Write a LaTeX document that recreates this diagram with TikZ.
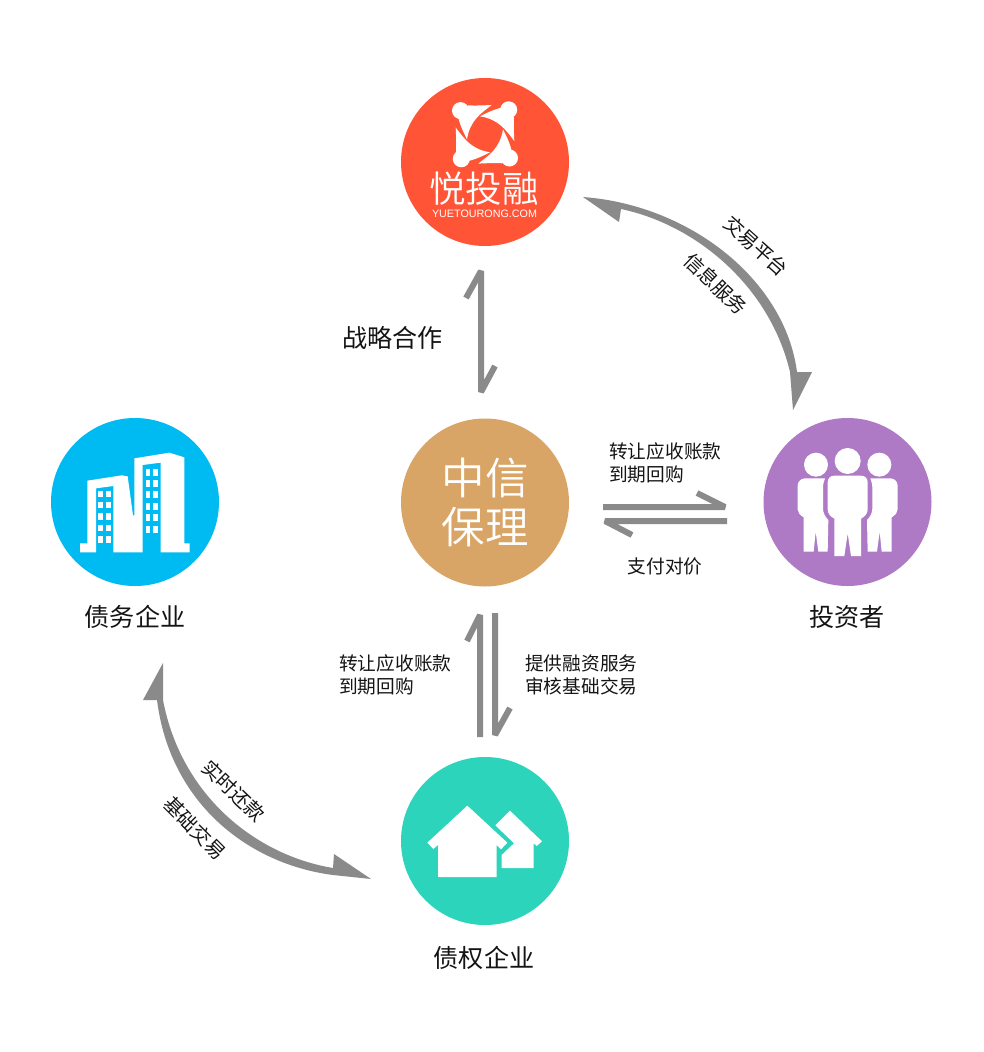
\documentclass[tikz,border=0pt]{standalone}
\usepackage{fontspec}
\setmainfont{Noto Sans CJK SC}
\newfontfamily\lightcjk{Noto Sans CJK SC DemiLight}
\newfontfamily\latinlogo{Liberation Sans}
\definecolor{cTop}{RGB}{255,84,54}
\definecolor{cMid}{RGB}{217,165,102}
\definecolor{cLeft}{RGB}{0,186,242}
\definecolor{cRight}{RGB}{175,122,197}
\definecolor{cBot}{RGB}{43,212,187}
\definecolor{cGray}{RGB}{138,138,138}
\definecolor{cInk}{RGB}{20,20,20}
\newcommand{\fs}[1]{\fontsize{#1pt}{#1pt}\selectfont}
\tikzset{
  x=1pt,y=-1pt,
  disc/.style={circle,minimum size=168pt,inner sep=0pt,text=white},
  biglabel/.style={inner sep=0pt,text=cInk,font=\fs{25.1}},
  smalllabel/.style={inner sep=0pt,text=cInk,font=\fs{18.7},align=left},
  tiltlabel/.style={inner sep=0pt,text=cInk,font=\fs{19.5}},
  halfline/.style={draw=cGray,line width=6pt,line join=bevel},
  swoop/.style={fill=cGray,draw=none}
}
\begin{document}
\begin{tikzpicture}
\useasboundingbox (0,0) rectangle (983,1052);
\fill[white] (0,0) rectangle (983,1052);
% discs
\node[disc,fill=cTop] (yue) at (485,162) {};
\node[disc,fill=cMid,font=\lightcjk\fs{43.5},align=center] (zx) at (485,502.5) {中信\\[5.5pt]保理};
\node[disc,fill=cLeft] (debt) at (135,502) {};
\node[disc,fill=cRight] (inv) at (847.5,502) {};
\node[disc,fill=cBot] (cred) at (485,841) {};
% logo
\foreach \a in {0,90,180,270}{
\begin{scope}[shift={(485,134.3)},rotate=\a]
\fill[white] (6.7,-29.3) .. controls (-4,-21) and (-15,-14) .. (-18,5)
  .. controls (-22,-3) and (-25,-9) .. (-27,-18) -- (-17,-29)
  .. controls (-10,-28.5) and (0,-29) .. (6.7,-29.3) -- cycle;
\fill[white] (-24.5,-23.7) circle (8.5);
\end{scope}}
\node[inner sep=0pt,text=white,font=\lightcjk\fs{36.5}] (logoname) at (484,189) {悦投融};
\node[inner sep=0pt,text=white,font=\latinlogo\fs{10.75}] (logourl) at (484.5,214) {YUETOURONG.COM};
% building
\begin{scope}[shift={(40,410)},scale=1/3]
\fill[white] (120,400) -- (142,400) -- (142,212) -- (245,196) -- (263,199) -- (279,316) -- (283,316) -- (283,145) -- (388,128) -- (433,142) -- (433,400) -- (449,400) -- (449,427) -- (362,427) -- (362,158) -- (308,165) -- (308,427) -- (220,427) -- (220,228) -- (168,235) -- (168,427) -- (120,427) -- cycle;
\foreach \y/\h in {242/20,275/20,309/20,344/20,378/22}{
  \fill[white] (175,\y) rectangle ++(15,\h);
  \fill[white] (197,\y) rectangle ++(15,\h);}
\foreach \y/\h in {176/22,209/21,244/20,278/22,313/21,348/21}{
  \fill[white] (317,\y) rectangle ++(14,\h);
  \fill[white] (338,\y) rectangle ++(16,\h);}
\end{scope}
% people
\begin{scope}[shift={(755,410)},scale=1/3]
\fill[white] (278,153) circle (39);
\fill[white] (183,164) circle (36);
\fill[white] (373,164) circle (36);
\fill[white] (238,197) -- (318,197) .. controls (330,197) and (338,205) .. (338,217) -- (338,298) .. controls (338,310) and (330,320) .. (318,326) -- (318,438) -- (288,438) -- (278,370) -- (268,438) -- (238,438) -- (238,326) .. controls (226,320) and (218,310) .. (218,298) -- (218,217) .. controls (218,205) and (226,197) .. (238,197) -- cycle;
\fill[white] (150,205) -- (210,205) .. controls (205,215) and (204,225) .. (204,240) -- (204,296) .. controls (204,310) and (212,322) .. (220,330) -- (218,425) -- (190,425) -- (182,365) -- (176,425) -- (146,425) -- (146,322) .. controls (135,315) and (128,308) .. (128,298) -- (128,227) .. controls (128,215) and (138,205) .. (150,205) -- cycle;
\fill[white] (406,205) -- (346,205) .. controls (351,215) and (352,225) .. (352,240) -- (352,296) .. controls (352,310) and (344,322) .. (336,330) -- (338,425) -- (366,425) -- (374,365) -- (380,425) -- (410,425) -- (410,322) .. controls (421,315) and (428,308) .. (428,298) -- (428,227) .. controls (428,215) and (418,205) .. (406,205) -- cycle;
\end{scope}
% houses
\begin{scope}[shift={(390,750)},scale=1/3]
\fill[white] (112,278) -- (232,167) -- (352,278) -- (333,298) -- (320,285) -- (320,381) -- (144,381) -- (144,285) -- (130,297) -- cycle;
\fill[white] (316,226) -- (360,182) -- (456,274) -- (440,288) -- (431,280) -- (431,354) -- (335,354) -- (335,315) -- (372,280) -- cycle;
\end{scope}
% connector end points
\coordinate (t1) at (466,298); \coordinate (t2) at (481,271); \coordinate (t3) at (481,392); \coordinate (t4) at (495,366);
\coordinate (h1) at (697,493); \coordinate (h2) at (725,507); \coordinate (h3) at (603,507);
\coordinate (h4) at (632,535); \coordinate (h5) at (605,521); \coordinate (h6) at (727,521);
\coordinate (v1) at (467,641); \coordinate (v2) at (480,615); \coordinate (v3) at (480,737);
\coordinate (v4) at (510,708); \coordinate (v5) at (495,735); \coordinate (v6) at (495,613);
\draw[halfline] (t1) -- (t2) -- (t3) -- (t4);
\draw[halfline] (h1) -- (h2) -- (h3);
\draw[halfline] (h4) -- (h5) -- (h6);
\draw[halfline] (v1) -- (v2) -- (v3);
\draw[halfline] (v4) -- (v5) -- (v6);
% curved arrows
\coordinate (a1) at (583,197); \coordinate (a2) at (797,372); \coordinate (a3) at (812,372);
\coordinate (a4) at (793,410); \coordinate (a5) at (790,372); \coordinate (a6) at (621,209); \coordinate (a7) at (619,222);
\path[swoop] (a1) .. controls (690,205) and (785,280) .. (a2) -- (a3) -- (a4) -- (a5)
  .. controls (770,287) and (697,225) .. (a6) -- (a7) -- cycle;
\coordinate (b1) at (163,663); \coordinate (b2) at (143,700); \coordinate (b3) at (157,700);
\coordinate (b4) at (333,875); \coordinate (b5) at (371,879); \coordinate (b6) at (334,854); \coordinate (b7) at (333,868); \coordinate (b8) at (163,700);
\path[swoop] (b1) -- (b2) -- (b3) .. controls (170,803) and (248,864) .. (b4) -- (b5) -- (b6) -- (b7)
  .. controls (255,855) and (181,795) .. (b8) -- cycle;
% labels
\node[biglabel] (l1) at (392.5,338) {战略合作};
\node[biglabel] (l2) at (135,617) {债务企业};
\node[biglabel] (l3) at (847,617) {投资者};
\node[biglabel] (l4) at (484,958) {债权企业};
\node[smalllabel,anchor=west] (s1a) at (609,451) {转让应收账款};
\node[smalllabel,anchor=west] (s1b) at (609,474) {到期回购};
\node[smalllabel] (s2) at (665,566) {支付对价};
\node[smalllabel,anchor=west] (s3a) at (339,663) {转让应收账款};
\node[smalllabel,anchor=west] (s3b) at (339,686) {到期回购};
\node[smalllabel,anchor=west] (s4a) at (525,663) {提供融资服务};
\node[smalllabel,anchor=west] (s4b) at (525,686) {审核基础交易};
\node[tiltlabel,rotate=-42] (r1) at (756,246) {交易平台};
\node[tiltlabel,rotate=-44] (r2) at (716,284) {信息服务};
\node[tiltlabel,rotate=-44] (r3) at (234,791) {实时还款};
\node[tiltlabel,rotate=-45] (r4) at (195,828) {基础交易};
\end{tikzpicture}
\end{document}
